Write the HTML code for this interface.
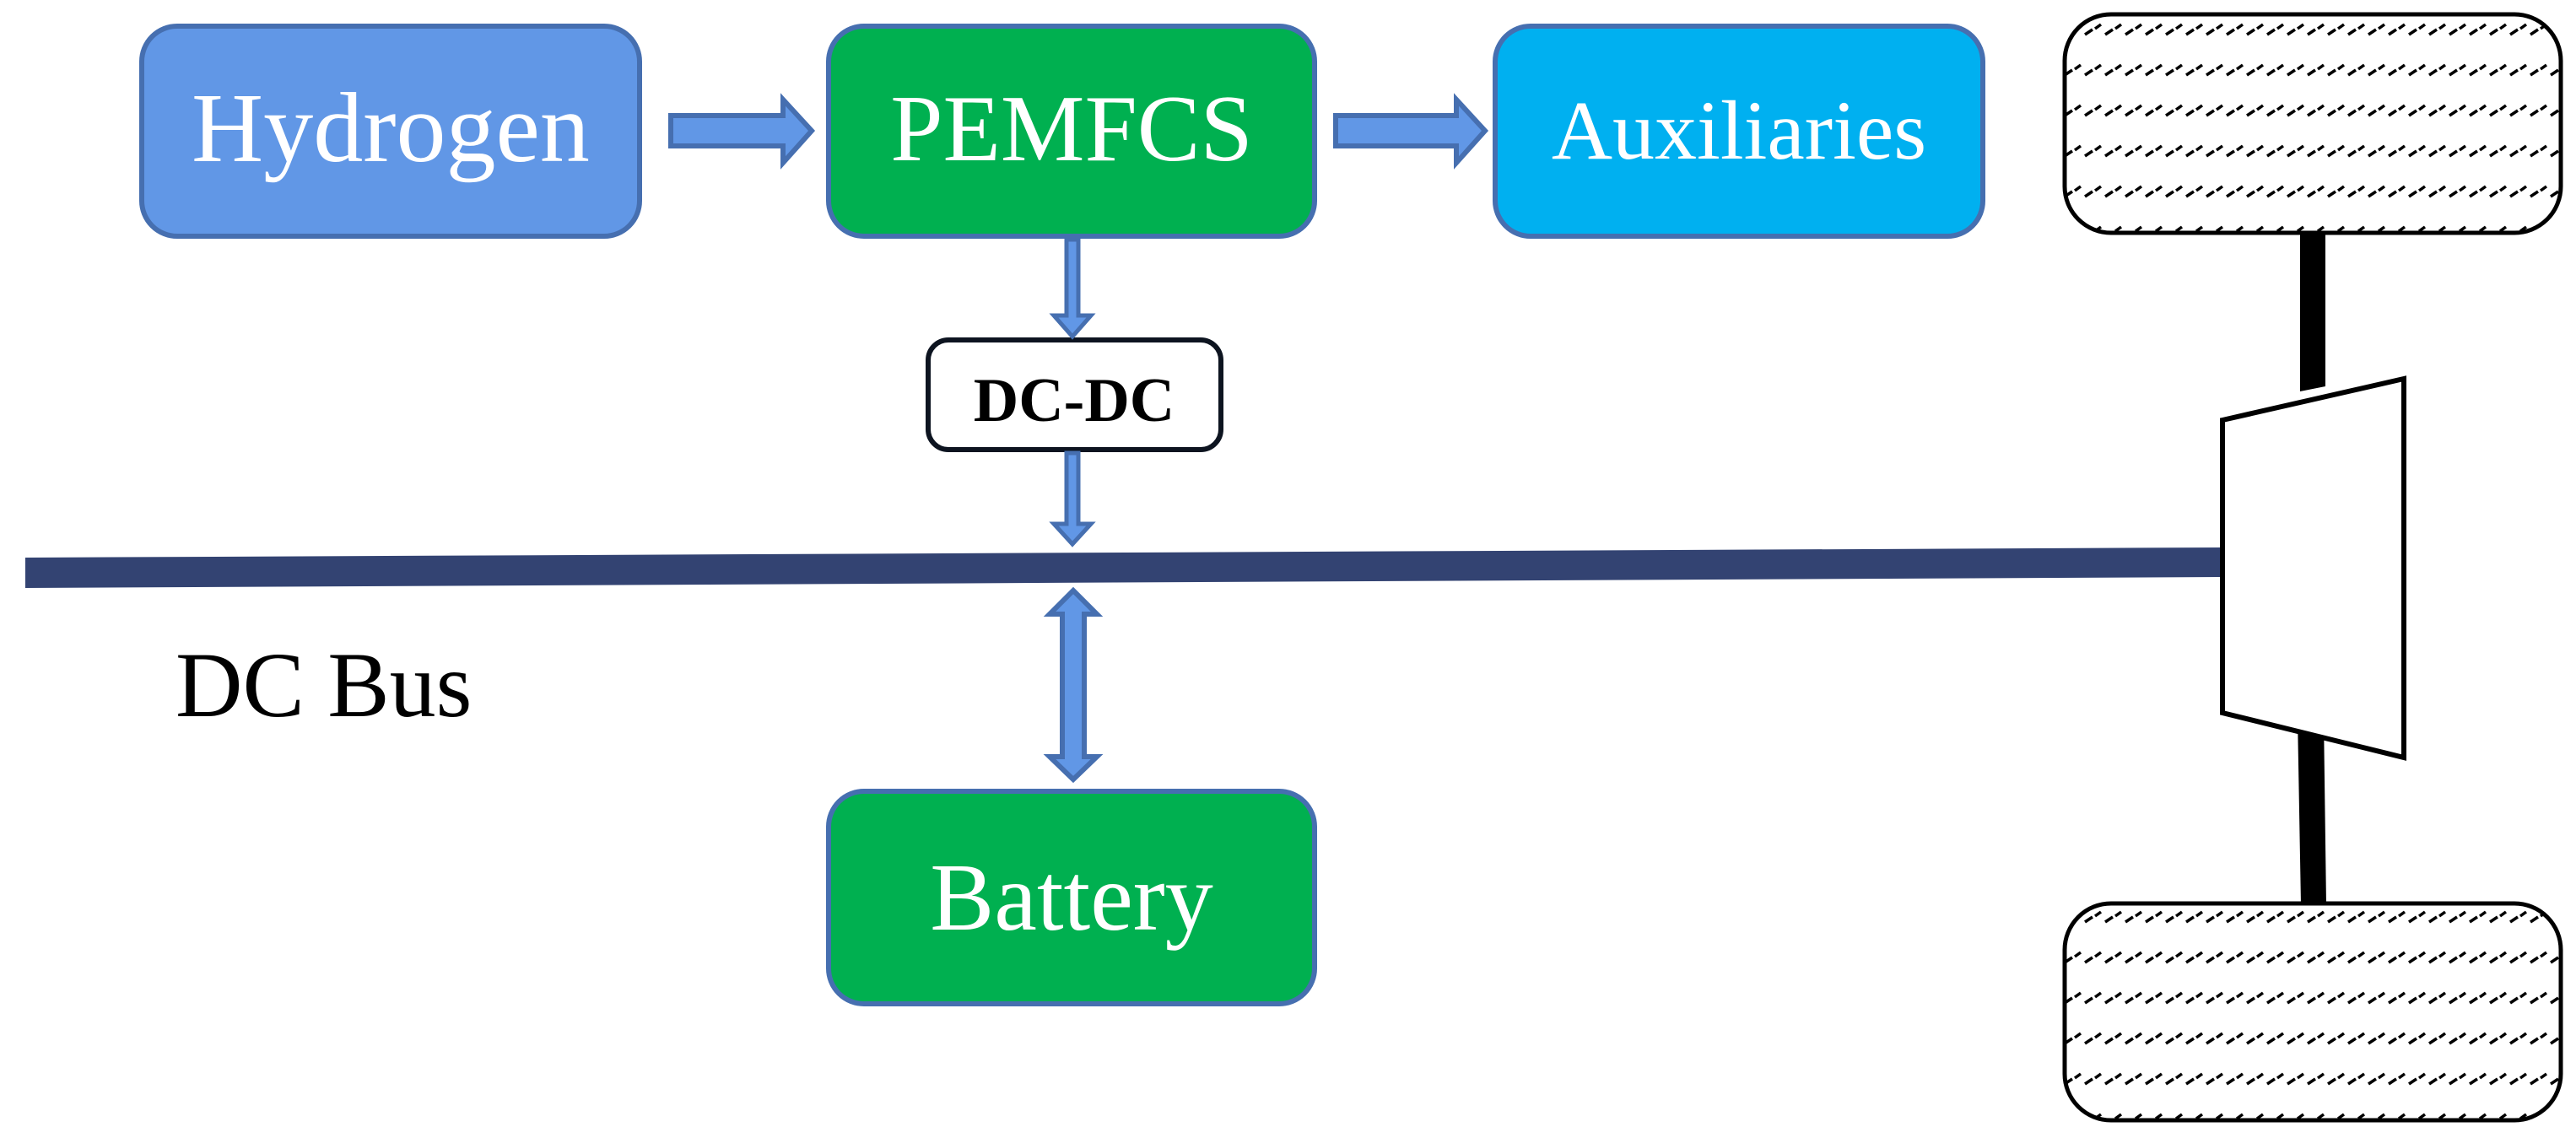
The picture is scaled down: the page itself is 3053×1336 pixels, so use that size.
<!DOCTYPE html>
<html><head><meta charset="utf-8"><style>
html,body{margin:0;padding:0;background:#fff;}
svg{display:block;}
text{font-family:"Liberation Serif",serif;}
</style></head><body>
<svg width="3053" height="1336" viewBox="0 0 3053 1336" xmlns="http://www.w3.org/2000/svg">
<defs>
<pattern id="hatch" width="24" height="48" patternUnits="userSpaceOnUse" x="2446" y="14">
<line x1="1" y1="27" x2="10" y2="21" stroke="#000" stroke-width="3.5"/>
<line x1="13" y1="20" x2="20" y2="15" stroke="#000" stroke-width="3.5"/>
</pattern>
<pattern id="hatch2" width="24" height="48" patternUnits="userSpaceOnUse" x="2446" y="1066">
<line x1="1" y1="27" x2="10" y2="21" stroke="#000" stroke-width="3.5"/>
<line x1="13" y1="20" x2="20" y2="15" stroke="#000" stroke-width="3.5"/>
</pattern>
</defs>

<rect x="168" y="31" width="590" height="249" rx="42" fill="#6197e6" stroke="#466fb0" stroke-width="6"/>
<text x="463" y="191" font-size="118" fill="#fff" text-anchor="middle">Hydrogen</text>

<rect x="982" y="31" width="576" height="249" rx="42" fill="#00b050" stroke="#466fb0" stroke-width="6"/>
<text x="1270" y="190" font-size="112" fill="#fff" text-anchor="middle">PEMFCS</text>

<rect x="1772" y="31" width="578" height="249" rx="42" fill="#00b0f0" stroke="#466fb0" stroke-width="6"/>
<text x="2061" y="188" font-size="100" fill="#fff" text-anchor="middle">Auxiliaries</text>

<rect x="982" y="938" width="576" height="252" rx="42" fill="#00b050" stroke="#466fb0" stroke-width="6"/>
<text x="1270" y="1102" font-size="114" fill="#fff" text-anchor="middle">Battery</text>

<rect x="1100" y="403" width="347" height="130" rx="24" fill="#fff" stroke="#0d1420" stroke-width="6"/>
<text x="1273" y="499" font-size="74" font-weight="bold" fill="#000" text-anchor="middle">DC-DC</text>

<polygon points="795,137 928,137 928,118 962,155 928,193 928,173 795,173" fill="#6197e6" stroke="#466fb0" stroke-width="6"/>
<polygon points="1583,137 1726,137 1726,118 1760,155 1726,193 1726,173 1583,173" fill="#6197e6" stroke="#466fb0" stroke-width="6"/>

<polygon points="1264,284 1278,284 1278,374 1293,374 1271,399 1249,374 1264,374" fill="#6197e6" stroke="#466fb0" stroke-width="5"/>
<polygon points="1264,537 1278,537 1278,621 1293,621 1271,645 1249,621 1264,621" fill="#6197e6" stroke="#466fb0" stroke-width="5"/>

<polygon points="30,661 2634,649 2634,684 30,697" fill="#334372"/>

<polygon points="1272,700 1300,728 1285,728 1285,897 1300,897 1272,924 1244,897 1259,897 1259,728 1244,728" fill="#6197e6" stroke="#466fb0" stroke-width="6"/>

<text x="208" y="849" font-size="110" fill="#000">DC Bus</text>

<polygon points="2726,274 2756,274 2756,458 2726,464" fill="#000"/>
<polygon points="2723,850 2754,850 2757,1073 2727,1073" fill="#000"/>

<rect x="2447" y="17" width="588" height="259" rx="55" fill="url(#hatch)" stroke="#000" stroke-width="5"/>
<rect x="2447" y="1071" width="588" height="257" rx="55" fill="url(#hatch2)" stroke="#000" stroke-width="5"/>

<polygon points="2634,498 2849,449 2849,898 2634,845" fill="#fff" stroke="#000" stroke-width="6"/>
</svg>
</body></html>
